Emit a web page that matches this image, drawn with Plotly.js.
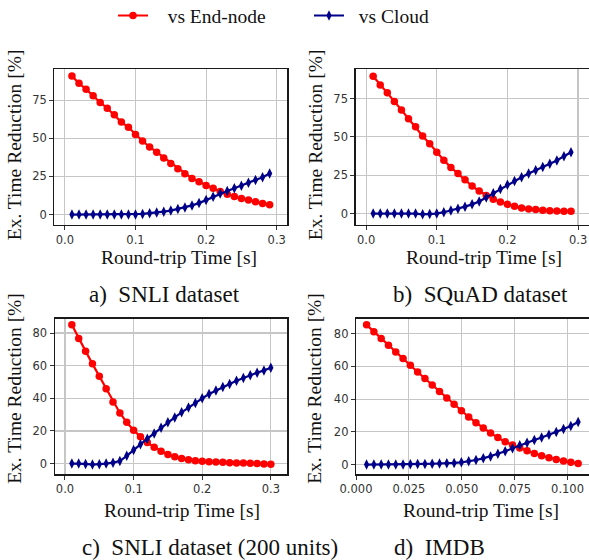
<!DOCTYPE html>
<html>
<head>
<meta charset="utf-8">
<script src="https://cdn.plot.ly/plotly-3.0.1.min.js"></script>
<style>html,body{margin:0;padding:0;background:#fff;}#chart{width:589px;height:560px;}</style>
</head>
<body>
<div id="chart"></div>
<script>
// ---- data ----
const xAB = [0.01,0.02,0.03,0.04,0.05,0.06,0.07,0.08,0.09,0.10,0.11,0.12,0.13,0.14,0.15,0.16,0.17,0.18,0.19,0.20,0.21,0.22,0.23,0.24,0.25,0.26,0.27,0.28,0.29];
const snliEnd   = [90.8,86.0,82.2,77.8,73.5,69.7,65.4,60.6,57.2,52.5,48.2,44.3,40.9,37.0,33.5,30.1,26.7,23.7,21.5,19.1,17.2,15.1,13.3,11.8,10.5,9.5,8.4,7.3,6.5];
const snliCloud = [0,0,0,0,0,0,0,0,0,0,0.4,0.9,1.3,1.9,2.6,3.7,4.7,6.0,7.5,9.5,11.6,13.8,15.5,17.2,18.9,20.9,22.6,24.5,26.9];
const squadEnd   = [89.5,83.8,78.8,73.1,67.5,61.8,56.6,50.6,45.5,40.0,34.8,30.1,26.1,22.0,17.9,14.7,11.8,9.4,7.5,6.0,4.7,3.6,3.0,2.6,2.1,1.9,1.7,1.5,1.5];
const squadCloud = [0,0,0,0,0,0,0,-0.5,-0.3,0,0.9,2.0,3.2,4.5,6.0,7.9,10.5,13.2,16.0,18.8,21.2,23.7,26.1,28.2,30.3,32.5,34.6,37.4,40.0];

const xC = [0.01,0.02,0.03,0.04,0.05,0.06,0.07,0.08,0.09,0.10,0.11,0.12,0.13,0.14,0.15,0.16,0.17,0.18,0.19,0.20,0.21,0.22,0.23,0.24,0.25,0.26,0.27,0.28,0.29,0.30];
const snli200End   = [85.0,76.6,68.9,61.1,53.5,45.8,37.8,31.0,25.3,20.5,16.5,12.9,10.1,7.6,5.6,4.2,3.2,2.4,1.8,1.4,1.2,1.0,0.8,0.6,0.4,0.4,0.2,0.0,-0.2,-0.4];
const snli200Cloud = [0,0,-0.2,-0.6,-0.4,0.0,0.6,1.6,4.8,8.4,11.9,15.3,18.5,21.9,25.3,28.3,31.4,34.4,37.2,40.0,42.6,44.8,47.0,48.8,50.7,52.5,54.1,55.7,57.1,58.7];

const xD = [0.005,0.00845,0.0119,0.01534,0.01879,0.02224,0.02569,0.02914,0.03259,0.03603,0.03948,0.04293,0.04638,0.04983,0.05328,0.05672,0.06017,0.06362,0.06707,0.07052,0.07397,0.07741,0.08086,0.08431,0.08776,0.09121,0.09466,0.0981,0.10155,0.105];
const imdbEnd   = [85.4,81.2,77.0,72.9,68.8,64.8,60.7,56.6,52.6,48.6,44.6,40.7,36.8,32.9,29.1,25.6,22.3,19.3,16.5,13.9,12.0,10.1,8.4,6.8,5.4,4.2,3.1,2.2,1.4,0.7];
const imdbCloud = [0,0,0,0,0,0.1,0.2,0.3,0.4,0.5,0.6,0.8,1.0,1.4,2.0,2.8,3.8,5.0,6.6,8.2,10.0,11.8,13.4,15.0,16.6,18.2,19.9,21.7,23.6,26.0];

const seriesNames = ["vs End-node", "vs Cloud"];
const captions = ["a)\u00a0 SNLI dataset", "b)\u00a0 SQuAD dataset", "c)\u00a0 SNLI dataset (200 units)", "d)\u00a0 IMDB"];
const xTitle = "Round-trip Time [s]";
const yTitle = "Ex. Time Reduction [%]";
const xTicks3 = [0, 0.1, 0.2, 0.3];
const xTickText3 = ["0.0", "0.1", "0.2", "0.3"];
const xTicksD = [0, 0.025, 0.05, 0.075, 0.1];
const xTickTextD = ["0.000", "0.025", "0.050", "0.075", "0.100"];
const yTicks25 = [0, 25, 50, 75];
const yTicks20 = [0, 20, 40, 60, 80];

// ---- drawing ----
const W = 589, H = 560;
const fx = v => v / W, fy = v => 1 - v / H;
const RED = "#ff0000", BLUE = "#000088";
const SERIF = "Liberation Serif, Times New Roman, serif";
const SANS = "DejaVu Sans, sans-serif";

function pair(x, yEnd, yCloud, ax, showLeg) {
  return [
    {x: x, y: yEnd, xaxis: "x" + ax, yaxis: "y" + ax, type: "scatter", mode: "lines+markers",
     name: "\u00a0\u00a0\u00a0" + seriesNames[0], showlegend: showLeg, legendgroup: "e",
     line: {color: RED, width: 2.2}, marker: {symbol: "circle", size: 7.5, color: RED}},
    {x: x, y: yCloud, xaxis: "x" + ax, yaxis: "y" + ax, type: "scatter", mode: "lines+markers",
     name: "\u00a0\u00a0" + seriesNames[1], showlegend: showLeg, legendgroup: "c",
     line: {color: BLUE, width: 2.2}, marker: {symbol: "diamond-tall", size: 7.5, color: BLUE}}
  ];
}
const data = [].concat(
  pair(xAB, snliEnd, snliCloud, "", true),
  pair(xAB, squadEnd, squadCloud, "2", false),
  pair(xC, snli200End, snli200Cloud, "3", false),
  pair(xD, imdbEnd, imdbCloud, "4", false)
);

function xax(d0, d1, range, tv, tt, anchor) {
  return {domain: [fx(d0), fx(d1)], range: range, anchor: anchor, tickmode: "array", tickvals: tv, ticktext: tt,
    showgrid: true, gridcolor: "#c6c6c6", gridwidth: 1.2, zeroline: false,
    showline: true, mirror: true, linecolor: "#1a1a1a", linewidth: 1.2,
    ticks: "outside", ticklen: 4, tickwidth: 1, tickcolor: "#333",
    tickfont: {family: SANS, size: 11.5, color: "#333"}};
}
function yax(t0, t1, range, tv, anchor) {
  return {domain: [fy(t1), fy(t0)], range: range, anchor: anchor, tickmode: "array", tickvals: tv,
    showgrid: true, gridcolor: "#c6c6c6", gridwidth: 1.2, zeroline: false,
    showline: true, mirror: true, linecolor: "#1a1a1a", linewidth: 1.2,
    ticks: "outside", ticklen: 4, tickwidth: 1, tickcolor: "#333",
    tickfont: {family: SANS, size: 11.5, color: "#333"}};
}

const annotations = [];
function ann(text, x, y, size, angle) {
  annotations.push({text: text, x: fx(x), y: fy(y), xref: "paper", yref: "paper", showarrow: false,
    xanchor: "center", yanchor: "middle", textangle: angle || 0, font: {family: SERIF, size: size, color: "#111"}});
}
ann(captions[0], 164.3, 290, 23);
ann(captions[1], 480.8, 290, 23);
ann(captions[2], 210, 547, 23);
ann(captions[3], 439, 547, 23);
ann(xTitle, 179, 253, 19.5);
ann(xTitle, 484, 253, 19.5);
ann(xTitle, 181.7, 510, 19.5);
ann(xTitle, 480.5, 510, 19.5);
ann(yTitle, 14, 138.5, 19.5, -90);
ann(yTitle, 315, 138.5, 19.5, -90);
ann(yTitle, 15, 386, 19.5, -90);
ann(yTitle, 315, 386, 19.5, -90);

const layout = {
  width: W, height: H, margin: {l: 0, r: 0, t: 0, b: 0},
  paper_bgcolor: "#fff", plot_bgcolor: "#fff",
  showlegend: true,
  legend: {orientation: "h", x: fx(113), xanchor: "left", y: fy(11), yanchor: "middle",
    font: {family: SERIF, size: 19.5, color: "#111"}, bgcolor: "rgba(0,0,0,0)", entrywidth: 151, itemwidth: 30},
  xaxis: xax(54.3, 287.3, [-0.015, 0.315], xTicks3, xTickText3, "y"),
  yaxis: yax(61, 219.3, [-6.7, 95.4], yTicks25, "x"),
  xaxis2: xax(355.5, 588.7, [-0.015, 0.315], xTicks3, xTickText3, "y2"),
  yaxis2: yax(61, 219.3, [-7.3, 94.2], yTicks25, "x2"),
  xaxis3: xax(54.7, 287.3, [-0.015, 0.324], xTicks3, xTickText3, "y3"),
  yaxis3: yax(314.7, 473, [-6.6, 88.8], yTicks20, "x3"),
  xaxis4: xax(356, 588.7, [0, 0.11], xTicksD, xTickTextD, "y4"),
  yaxis4: yax(314.7, 473, [-6.0, 89.2], yTicks20, "x4"),
  annotations: annotations
};
Plotly.newPlot("chart", data, layout, {displayModeBar: false, staticPlot: true}).then(function (gd) {
  // nudge the (top-clamped) legend up a few pixels to match the reference
  var lg = gd.querySelector("g.legend");
  if (lg) {
    var t = lg.getAttribute("transform") || "";
    var m = /translate\(\s*([-\d.]+)[ ,]+([-\d.]+)\s*\)/.exec(t);
    if (m) lg.setAttribute("transform", "translate(" + m[1] + "," + (parseFloat(m[2]) - 4) + ")");
  }
});
</script>
</body>
</html>
